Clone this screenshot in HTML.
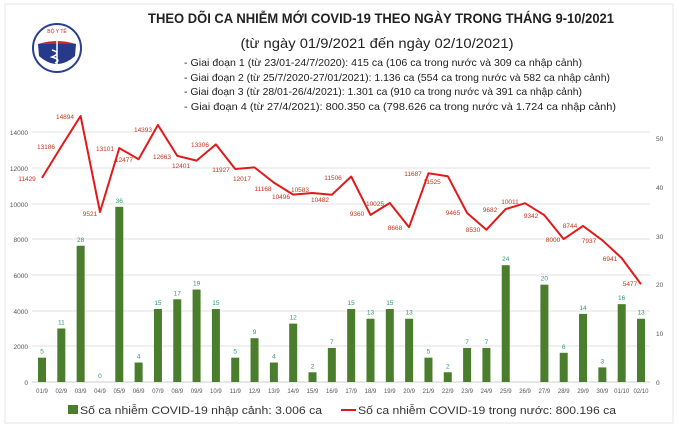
<!DOCTYPE html>
<html><head><meta charset="utf-8"><style>
body{margin:0;background:#fff}
svg{display:block;font-family:"Liberation Sans",sans-serif}
</style></head><body>
<svg width="678" height="426" viewBox="0 0 678 426" xmlns="http://www.w3.org/2000/svg">
<rect x="5" y="4" width="668" height="419" fill="#fff" stroke="#e4e4e4"/>
<circle cx="57" cy="48" r="24" fill="#fff" stroke="#2a3f8f" stroke-width="2"/>
<path d="M38 44 L76 44 L75 56 Q57 72 39 56 Z" fill="#27398a"/>
<path d="M38 44 Q57 38 76 44" fill="#c62828"/>
<path d="M57 40 L57 66 M52 50 Q62 53 52 57 Q62 60 55 63" stroke="#fff" stroke-width="1.5" fill="none"/>
<text x="57" y="33" font-size="5" text-anchor="middle" fill="#c62828">BỘ Y TẾ</text>
<g fill="#222" text-anchor="middle">
<text x="381" y="23" font-size="13.5" font-weight="bold" textLength="466" lengthAdjust="spacingAndGlyphs">THEO DÕI CA NHIỄM MỚI COVID-19 THEO NGÀY TRONG THÁNG 9-10/2021</text>
<text x="377" y="48" font-size="14" textLength="273" lengthAdjust="spacingAndGlyphs">(từ ngày 01/9/2021 đến ngày 02/10/2021)</text>
</g>
<g fill="#222" font-size="10.5">
<text x="184" y="66" textLength="398" lengthAdjust="spacingAndGlyphs">- Giai đoạn 1 (từ 23/01-24/7/2020): 415 ca (106 ca trong nước và 309 ca nhập cảnh)</text>
<text x="184" y="81" textLength="426" lengthAdjust="spacingAndGlyphs">- Giai đoạn 2 (từ 25/7/2020-27/01/2021): 1.136 ca (554 ca trong nước và 582 ca nhập cảnh)</text>
<text x="184" y="95" textLength="398" lengthAdjust="spacingAndGlyphs">- Giai đoạn 3 (từ 28/01-26/4/2021): 1.301 ca (910 ca trong nước và 391 ca nhập cảnh)</text>
<text x="184" y="110" textLength="432" lengthAdjust="spacingAndGlyphs">- Giai đoạn 4 (từ 27/4/2021): 800.350 ca (798.626 ca trong nước và 1.724 ca nhập cảnh)</text>
</g>
<g stroke="#e2e2e2" stroke-width="1">
<line x1="32" x2="650" y1="132" y2="132"/><line x1="32" x2="650" y1="168" y2="168"/>
<line x1="32" x2="650" y1="204" y2="204"/><line x1="32" x2="650" y1="239" y2="239"/>
<line x1="32" x2="650" y1="275" y2="275"/><line x1="32" x2="650" y1="311" y2="311"/>
<line x1="32" x2="650" y1="346" y2="346"/><line x1="32" x2="650" y1="382" y2="382" stroke="#ccc"/>
</g>
<g fill="#555" font-size="6.5" text-anchor="end">
<text x="28" y="135">14000</text><text x="28" y="171">12000</text><text x="28" y="207">10000</text>
<text x="28" y="242">8000</text><text x="28" y="278">6000</text><text x="28" y="314">4000</text>
<text x="28" y="349">2000</text><text x="28" y="385">0</text>
</g>
<g fill="#555" font-size="6.5">
<text x="656" y="141">50</text><text x="656" y="190">40</text><text x="656" y="239">30</text>
<text x="656" y="287">20</text><text x="656" y="336">10</text><text x="656" y="385">0</text>
</g>
<g id="bars" fill="#4a7d2c"></g>
<g id="blab" fill="#2e9a6a" font-size="6.5" text-anchor="middle"></g>
<g id="xlab" fill="#555" font-size="6" text-anchor="middle"></g>
<polyline id="ln" fill="none" stroke="#e01a1a" stroke-width="2" stroke-linejoin="round"/>
<g id="llab" fill="#c8351e" font-size="6.5" text-anchor="middle"></g>
<rect x="68" y="405" width="10" height="9" fill="#4a7d2c"/>
<text x="80" y="414" font-size="11" fill="#333" textLength="242" lengthAdjust="spacingAndGlyphs">Số ca nhiễm COVID-19 nhập cảnh: 3.006 ca</text>
<line x1="341" x2="356" y1="410" y2="410" stroke="#e01a1a" stroke-width="2"/>
<text x="358" y="414" font-size="11" fill="#333" textLength="258" lengthAdjust="spacingAndGlyphs">Số ca nhiễm COVID-19 trong nước: 800.196 ca</text>
</svg>
<script>
var b=[5,11,28,0,36,4,15,17,19,15,5,9,4,12,2,7,15,13,15,13,5,2,7,7,24,null,20,6,14,3,16,13];
var l=[11429,13186,14894,9521,13101,12477,14393,12663,12401,13306,11927,12017,11168,10496,10583,10482,11506,9360,10025,8668,11687,11525,9465,8530,9682,10011,9342,8000,8744,7937,6941,5477];
var lp=[[27,181],[46,149],[65,119],[90,216],[105,151],[124,162],[143,132],[162,159],[181,168],[200,147],[221,172],[242,181],[263,191],[281,199],[300,192],[320,202],[333,180],[357,216],[375,206],[395,230],[413,176],[432,184],[453,215],[473,232],[490,212],[510,204],[531,218],[553,242],[570,228],[589,243],[610,261],[630,286]];
var days=[];for(var i=1;i<=30;i++)days.push((i<10?"0"+i:i)+"/9");days.push("01/10","02/10");
var n=32,x0=42,x1=641,dx=(x1-x0)/(n-1);
var ns="http://www.w3.org/2000/svg";
function el(p,t,a,txt){var e=document.createElementNS(ns,t);for(var k in a)e.setAttribute(k,a[k]);if(txt!=null)e.textContent=txt;document.getElementById(p).appendChild(e);}
var pts=[];
for(var i=0;i<n;i++){var x=x0+i*dx;
 el("xlab","text",{x:x,y:393},days[i]);
 if(b[i]!=null){var h=b[i]*4.866;el("bars","rect",{x:x-4,y:382-h,width:8,height:h});el("blab","text",{x:x,y:382-h-4},b[i]);}
 pts.push(x.toFixed(1)+","+(382-l[i]*0.017857).toFixed(1));
 el("llab","text",{x:lp[i][0],y:lp[i][1]},l[i]);
}
document.getElementById("ln").setAttribute("points",pts.join(" "));
</script>
</body></html>
